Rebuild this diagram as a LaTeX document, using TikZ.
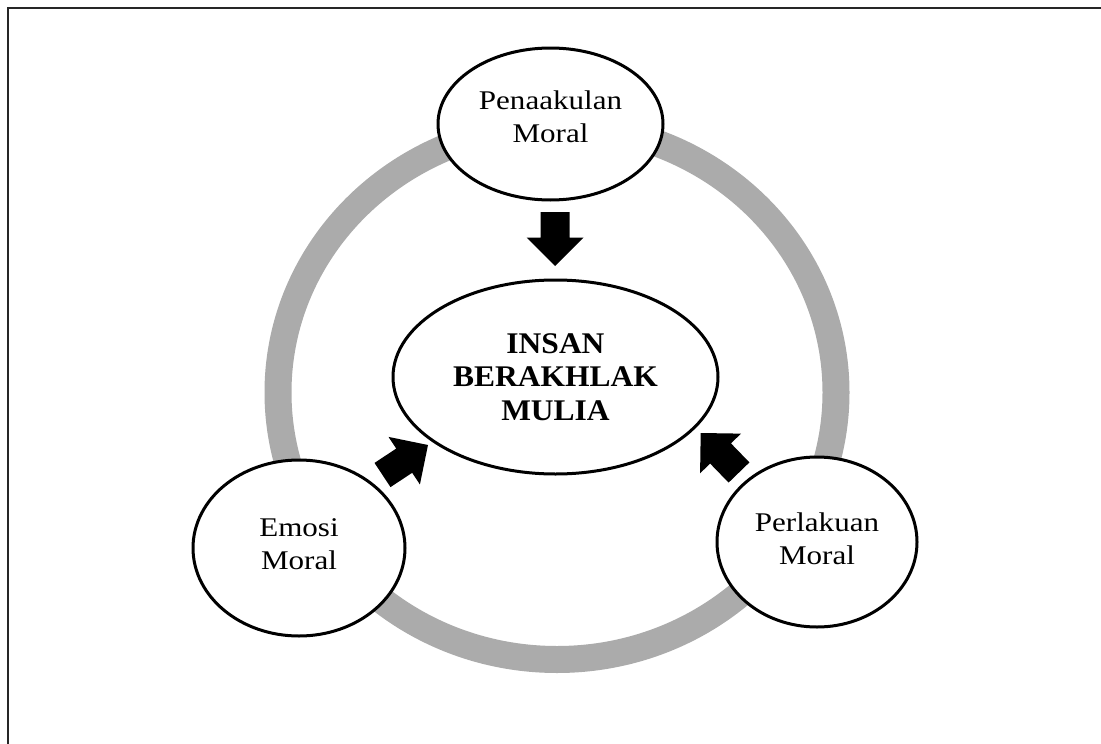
\documentclass[tikz,border=0pt]{standalone}
\usepackage{fontspec}
\setmainfont{Liberation Serif}[FakeStretch=1.15,BoldFeatures={FakeStretch=1.05}]
\usetikzlibrary{calc,shapes.geometric}
\definecolor{ringgray}{RGB}{171,171,171}
\tikzset{
  bubble/.style={ellipse, draw=black, line width=3pt, fill=white, inner sep=0pt},
  bubbletext/.style={font=\fontsize{27}{33}\selectfont, align=center, inner sep=0pt},
  coretext/.style={font=\bfseries\fontsize{30}{33.5}\selectfont, align=center},
  frameline/.style={line width=2.5pt, draw=black!85},
  ring/.style={draw=ringgray, line width=27pt},
}
% solid block arrow from tail #1 to tip #2 (shaft 29pt, head 57pt wide)
\newcommand\blockarrow[2]{%
  \path coordinate (#1h) at ($(#2)!28.5pt!(#1)$);
  \fill[black] ($(#1)!14.5pt!90:(#2)$) -- ($(#1h)!14.5pt!90:(#2)$)
    -- ($(#1h)!28.5pt!90:(#2)$) -- (#2) -- ($(#1h)!28.5pt!-90:(#2)$)
    -- ($(#1h)!14.5pt!-90:(#2)$) -- ($(#1)!14.5pt!-90:(#2)$) -- cycle;}
\begin{document}
\begin{tikzpicture}[x=1pt,y=-1pt]
\useasboundingbox (0,0) rectangle (1101,744);
% frame
\draw[frameline] (8,744) -- (8,8) -- (1101,8);
% grey cycle behind the bubbles
\draw[ring] (557,392.5) ellipse [x radius=279, y radius=267];
% bubbles
\node[bubble, minimum width=225pt, minimum height=152pt,
  label={[bubbletext, yshift=7pt]center:{Penaakulan\\Moral}}] (pen) at (550.5,124) {};
\node[bubble, minimum width=325pt, minimum height=194pt, coretext]
  (ins) at (555.5,377) {INSAN\\BERAKHLAK\\MULIA};
\node[bubble, minimum width=212pt, minimum height=176pt,
  label={[bubbletext, yshift=4pt]center:{Emosi\\Moral}}] (emo) at (299,548) {};
\node[bubble, minimum width=200pt, minimum height=170pt,
  label={[bubbletext, yshift=3pt]center:{Perlakuan\\Moral}}] (per) at (817,542) {};
% arrows towards the centre
\coordinate (dnS) at (555,212);   \coordinate (dnE) at (555,266);
\coordinate (lfS) at (382.5,475); \coordinate (lfE) at (428,445);
\coordinate (rtS) at (739,472.5); \coordinate (rtE) at (700.7,433);
\blockarrow{dnS}{dnE}
\blockarrow{lfS}{lfE}
\blockarrow{rtS}{rtE}
\end{tikzpicture}
\end{document}
